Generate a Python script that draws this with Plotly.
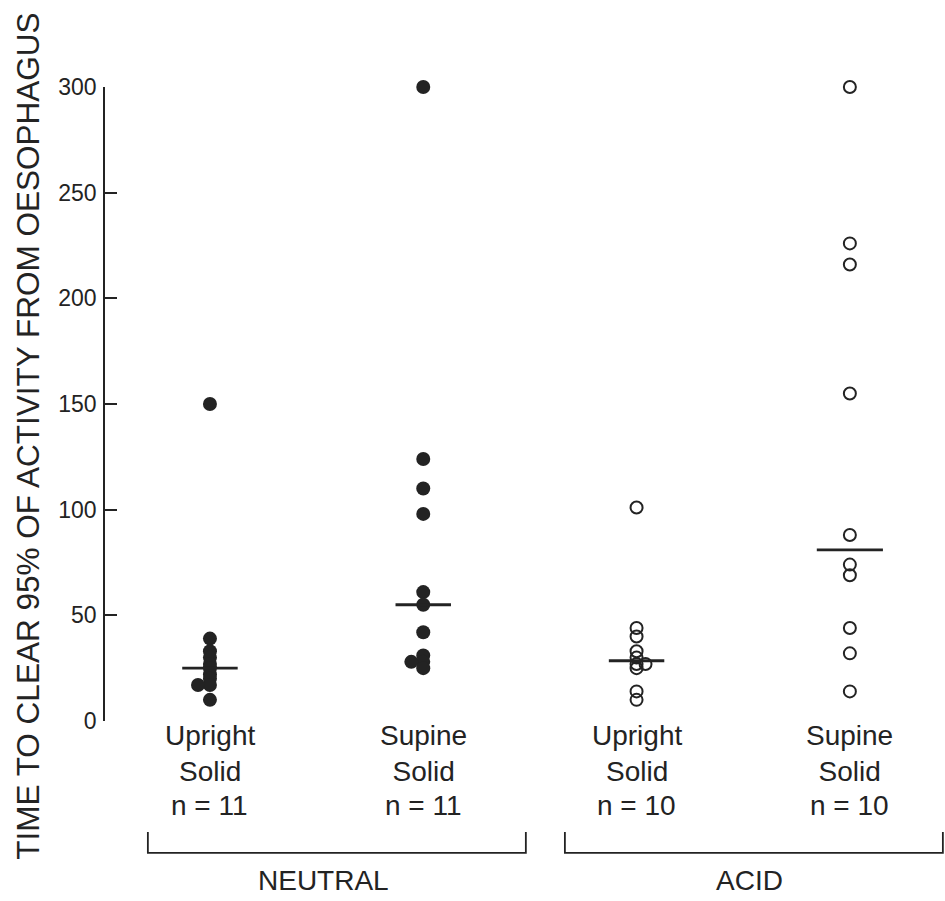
import numpy as np
import plotly.graph_objects as go

# ---- data ----
cat_line1 = ["Upright", "Supine", "Upright", "Supine"]
cat_line2 = ["Solid", "Solid", "Solid", "Solid"]
n_labels = ["n = 11", "n = 11", "n = 10", "n = 10"]
groups = ["NEUTRAL", "ACID"]

neutral_upright = [150, 39, 33, 30, 27, 25, 22, 20, 17, 17, 10]
neutral_supine = [300, 124, 110, 98, 61, 55, 42, 31, 28, 28, 25]
acid_upright = [101, 44, 40, 33, 30, 27, 27, 25, 14, 10]
acid_supine = [300, 226, 216, 155, 88, 74, 69, 44, 32, 14]

# small horizontal displacement of overlapping points (in category units)
neutral_upright_dx = [0, 0, 0, 0, 0, 0, 0, 0, 0, -0.056, 0]
neutral_supine_dx = [0, 0, 0, 0, 0, 0, 0, 0, 0, -0.056, 0]
acid_upright_dx = [0, 0, 0, 0, 0, 0, 0.042, 0, 0, 0]
acid_supine_dx = [0] * 10

y_ticks = [0, 50, 100, 150, 200, 250, 300]

series = [
    (neutral_upright, neutral_upright_dx, "filled"),
    (neutral_supine, neutral_supine_dx, "filled"),
    (acid_upright, acid_upright_dx, "open"),
    (acid_supine, acid_supine_dx, "open"),
]

INK = "#232323"
FONT = "Liberation Sans, Arial, Helvetica, sans-serif"

fig = go.Figure()
for i, (vals, dx, kind) in enumerate(series):
    xs = [i + d for d in dx]
    if kind == "filled":
        marker = dict(symbol="circle", size=14, color=INK, line=dict(width=0))
    else:
        marker = dict(symbol="circle-open", size=12, color=INK, line=dict(width=2, color=INK))
    fig.add_trace(go.Scatter(x=xs, y=vals, mode="markers", marker=marker,
                             cliponaxis=False, showlegend=False, hoverinfo="y"))
    med = float(np.median(vals))
    half = 0.13 if i < 3 else 0.155
    fig.add_shape(type="line", x0=i - half, x1=i + half, y0=med, y1=med,
                  xref="x", yref="y", line=dict(color=INK, width=2.8))

annotations = []
for i in range(4):
    annotations.append(dict(x=i, y=-0.052, xref="x", yref="paper",
                            text=f"{cat_line1[i]}<br>{cat_line2[i]}",
                            showarrow=False, xanchor="center", yanchor="middle",
                            font=dict(size=28, color=INK, family=FONT)))
    annotations.append(dict(x=i, y=-0.1325, xref="x", yref="paper", text=n_labels[i],
                            showarrow=False, xanchor="center", yanchor="middle",
                            font=dict(size=28, color=INK, family=FONT)))

# group brackets
bracket_ranges = [(-0.291, 1.481), (1.664, 3.436)]
group_label_x = [0.534, 2.53]
for (x0, x1), name, lx in zip(bracket_ranges, groups, group_label_x):
    fig.add_shape(type="path",
                  path=f"M {x0},-0.175 L {x0},-0.208 L {x1},-0.208 L {x1},-0.175",
                  xref="x", yref="paper", line=dict(color=INK, width=1.8))
    annotations.append(dict(x=lx, y=-0.2508, xref="x", yref="paper", text=name,
                            showarrow=False, xanchor="center", yanchor="middle",
                            font=dict(size=28, color=INK, family=FONT)))

annotations.append(dict(x=-0.092, y=0.4495, xref="paper", yref="paper",
                        text="TIME TO CLEAR 95% OF ACTIVITY FROM OESOPHAGUS",
                        textangle=-90, showarrow=False, xanchor="center", yanchor="middle",
                        font=dict(size=31.5, color=INK, family=FONT)))

fig.update_layout(
    width=945, height=901,
    margin=dict(l=105, r=0, t=87, b=180),
    paper_bgcolor="white", plot_bgcolor="white",
    font=dict(family=FONT, color=INK),
    annotations=annotations,
    xaxis=dict(range=[-0.492, 3.446], visible=False, fixedrange=True),
    yaxis=dict(range=[0, 300], tickvals=y_ticks, ticktext=[str(v) for v in y_ticks],
               showline=True, linecolor=INK, linewidth=1.5,
               ticks="inside", ticklen=12, tickwidth=1.5, tickcolor=INK,
               showgrid=False, zeroline=False,
               tickfont=dict(size=23, color=INK, family=FONT), ticklabelstandoff=2),
)

fig.write_html("out.html")
